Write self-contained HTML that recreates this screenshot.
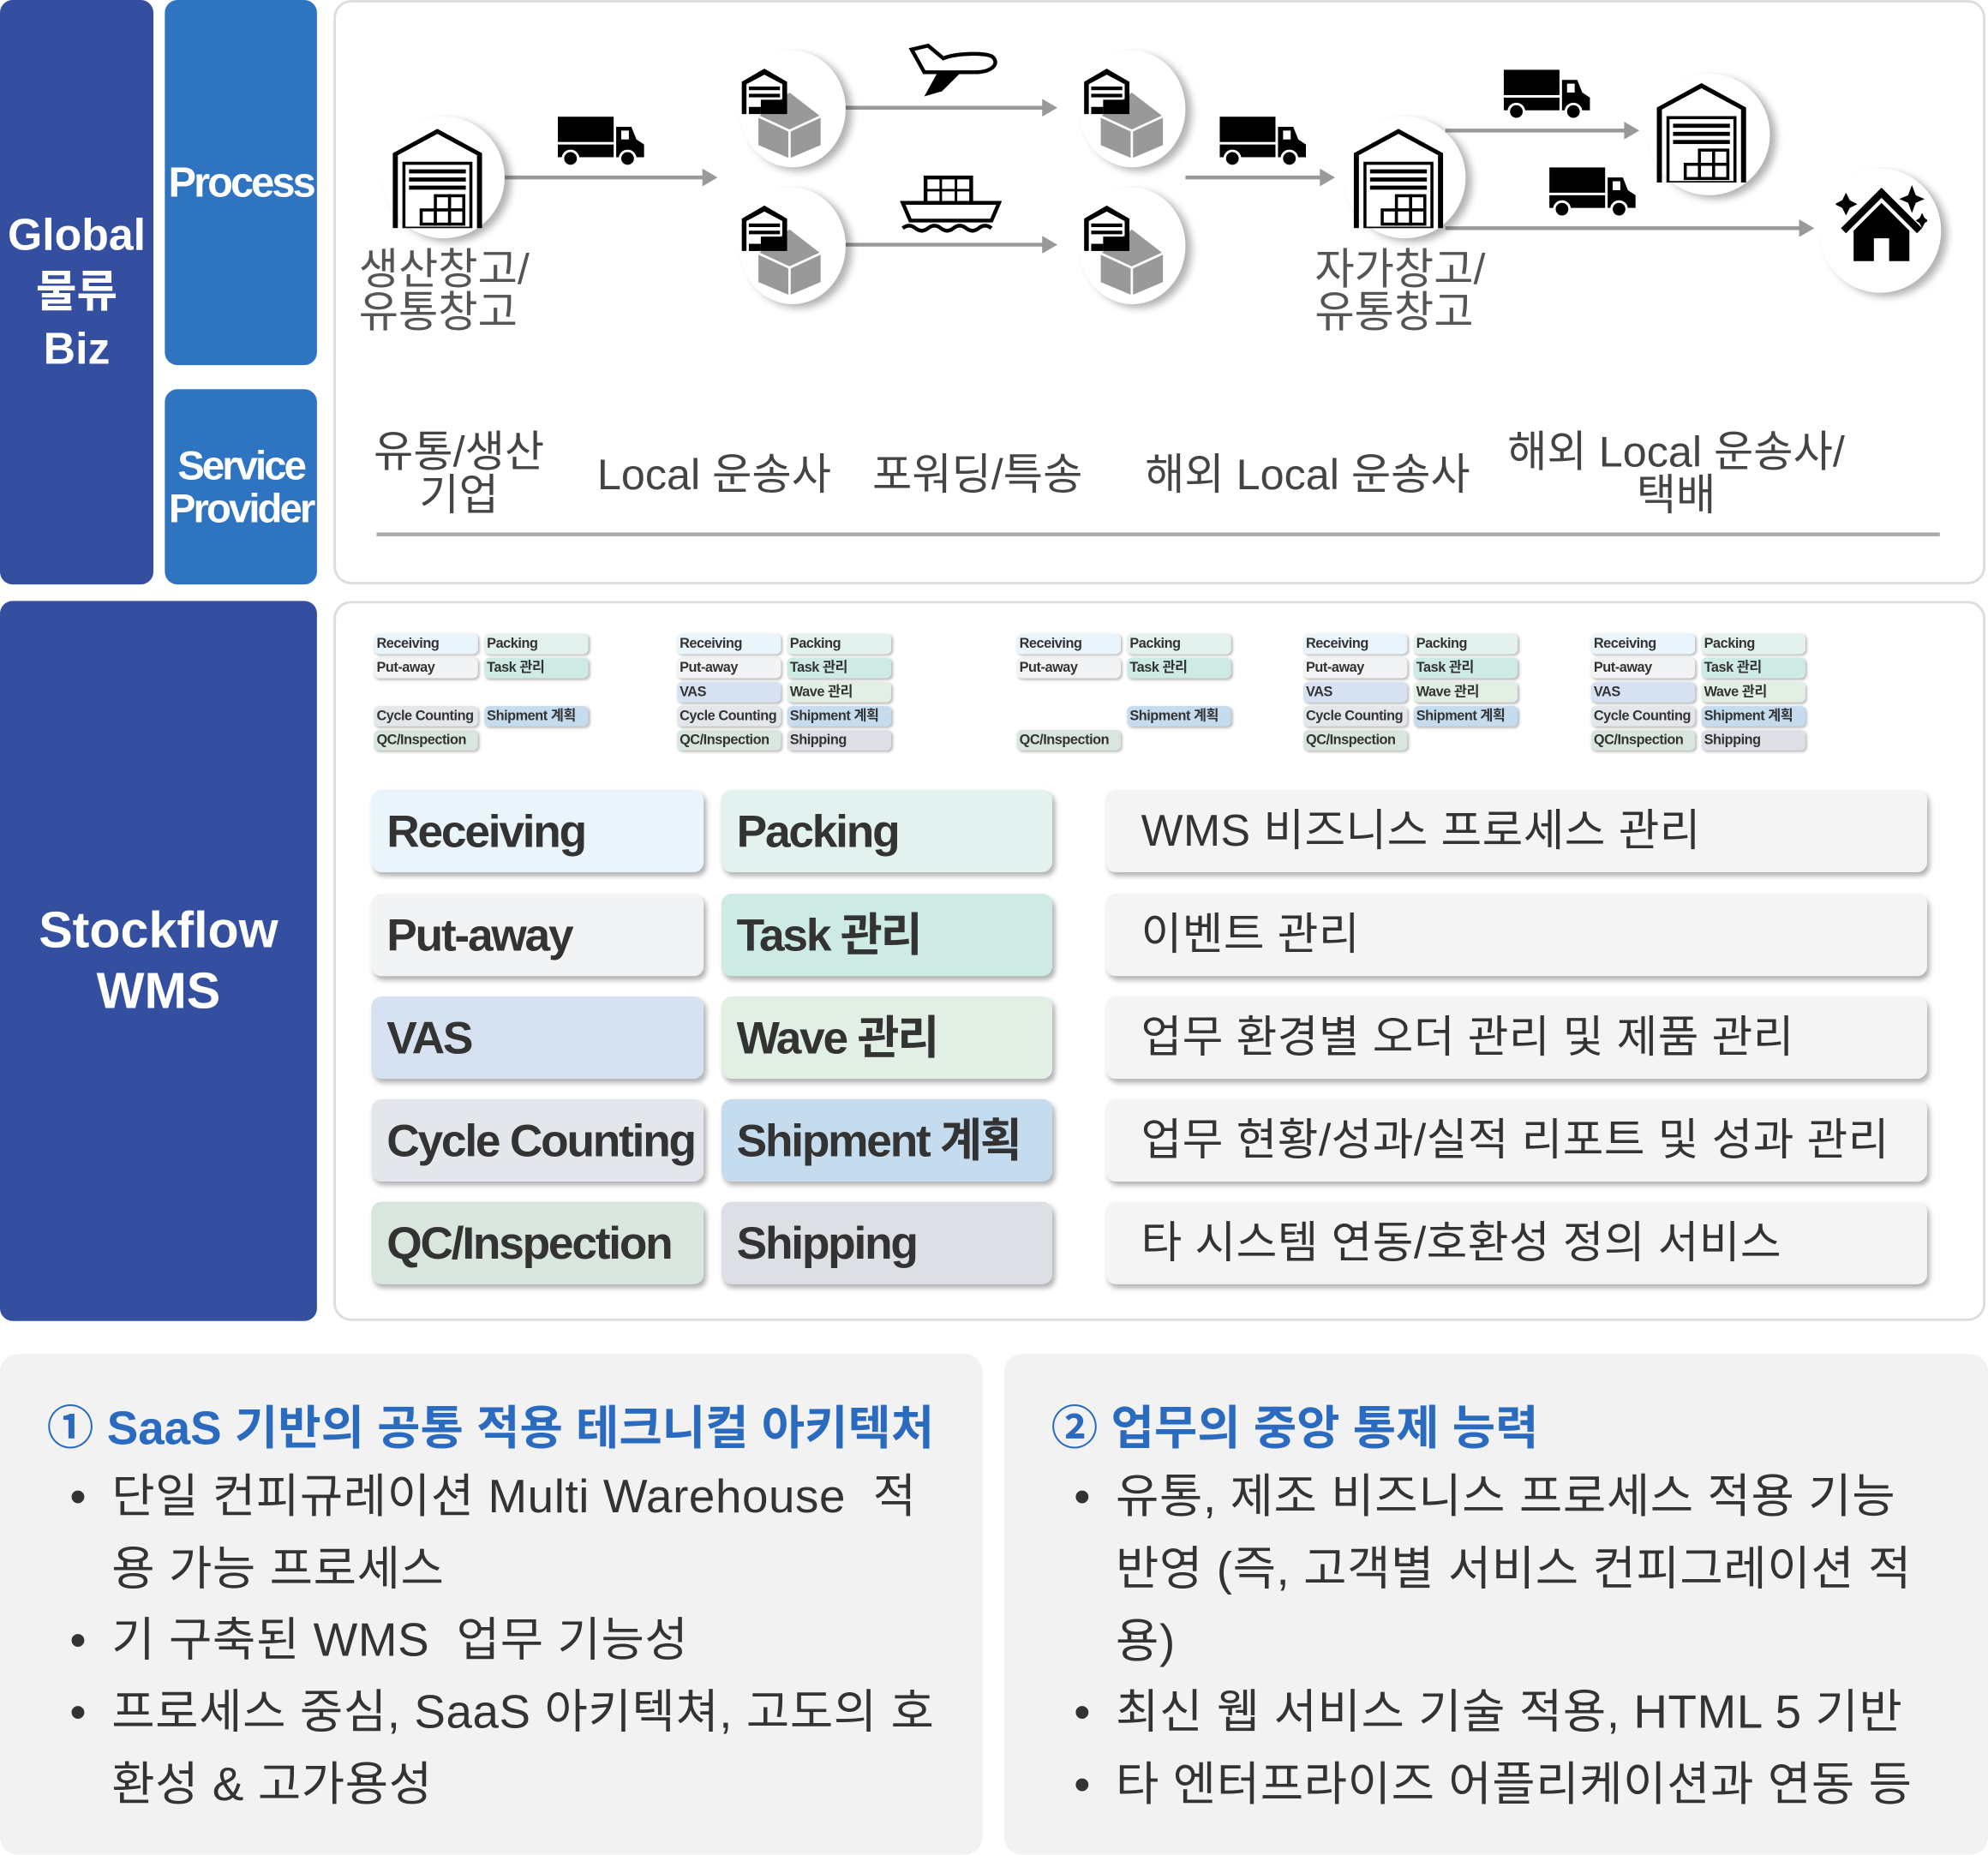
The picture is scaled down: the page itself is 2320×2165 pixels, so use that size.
<!DOCTYPE html>
<html><head><meta charset="utf-8">
<style>
*{margin:0;padding:0;box-sizing:border-box}
html,body{width:2320px;height:2165px;overflow:hidden;background:#fff}
#w{position:absolute;left:0;top:0;width:1568px;height:1463px;transform:scale(1.4796);transform-origin:0 0;font-family:"Liberation Sans","Noto Sans CJK KR",sans-serif}
.a{position:absolute}
.blk{position:absolute;border-radius:10px;color:#fff;font-weight:bold;display:flex;align-items:center;justify-content:center;text-align:center}
.panel{position:absolute;background:#fff;border:2px solid #ddd;border-radius:14px}
.circ{position:absolute;border-radius:50%;background:#fff;box-shadow:5px 3px 6px rgba(0,0,0,.3)}
.lbl{position:absolute;font-size:34px;color:#444;line-height:34px;text-align:center;white-space:nowrap}
.st{position:absolute;width:82px;height:16px;border-radius:4px;font-size:11px;font-weight:bold;color:#333;line-height:16px;padding-left:2px;box-shadow:1px 1px 2px rgba(0,0,0,.3);letter-spacing:-.3px;white-space:nowrap;overflow:hidden}
.bt{position:absolute;height:65px;border-radius:8px;font-size:36px;font-weight:bold;color:#333;line-height:65px;padding-left:12px;letter-spacing:-1.5px;box-shadow:2px 3px 4px rgba(0,0,0,.3);white-space:nowrap}
.rb{position:absolute;left:872px;width:648px;height:65px;border-radius:8px;background:#f4f4f4;font-size:35px;color:#333;line-height:65px;padding-left:28px;box-shadow:2px 3px 4px rgba(0,0,0,.3);white-space:nowrap;letter-spacing:.3px}
.bot{position:absolute;top:1068px;height:395px;background:#f2f2f2;border-radius:14px}
.tt{position:absolute;font-size:37px;font-weight:bold;color:#2a6bbf;white-space:nowrap;letter-spacing:0}
.bl{position:absolute;font-size:37px;color:#333;line-height:57px;word-break:break-all;letter-spacing:.4px}
.bl span{position:absolute;left:-33px}
</style></head><body>
<svg width="0" height="0" style="position:absolute">
<defs>
<symbol id="wh" viewBox="0 0 100 100"><path d="M6 100V26L50 2l44 24v74h-5V28L50 7 11 28v72z" fill="#000"/><rect x="17" y="36" width="66" height="64" fill="#fff" stroke="#000" stroke-width="3"/><rect x="22" y="42" width="56" height="4"/><rect x="22" y="50" width="56" height="4"/><rect x="22" y="58" width="56" height="4"/><g fill="#fff" stroke="#000" stroke-width="3"><rect x="48" y="68" width="14" height="14"/><rect x="62" y="68" width="14" height="14"/><rect x="34" y="82" width="14" height="14"/><rect x="48" y="82" width="14" height="14"/><rect x="62" y="82" width="14" height="14"/></g></symbol>
<symbol id="sw" viewBox="0 0 70 75"><path d="M40 20l26 20v24l-26 11-26-11V40z" fill="#999"/><path d="M40 52v23M40 52l26-12M40 52L14 40" stroke="#fff" stroke-width="2" fill="none"/><path d="M0 38V11L19 0l19 11v27h-4V13L19 5 4 13v25z"/><rect x="6" y="15" width="26" height="3"/><rect x="6" y="21" width="26" height="3"/><rect x="16" y="26" width="20" height="12"/><rect x="6" y="32" width="10" height="6"/></symbol>
<symbol id="tr" viewBox="0 0 70 40"><rect x="0" y="0" width="44" height="20"/><rect x="0" y="22" width="44" height="10"/><path d="M46 8h12l4 10 6 4v10H46z"/><rect x="50" y="11" width="6" height="7" fill="#fff"/><circle cx="10" cy="33" r="6" stroke="#fff" stroke-width="2"/><circle cx="55" cy="33" r="6" stroke="#fff" stroke-width="2"/></symbol>
</defs></svg>
<div id="w">
<div class="blk" style="left:0;top:0;width:121px;height:461px;background:#344ea0;font-size:35px;line-height:45px">Global<br>물류<br>Biz</div>
<div class="blk" style="left:130px;top:0;width:120px;height:288px;background:#2f74c0;font-size:33px;letter-spacing:-2px">Process</div>
<div class="blk" style="left:130px;top:307px;width:120px;height:154px;background:#2f74c0;font-size:32px;line-height:34px;letter-spacing:-2px">Service<br>Provider</div>
<div class="panel" style="left:263px;top:0;width:1303px;height:461px"></div>
<div class="blk" style="left:0;top:474px;width:250px;height:568px;background:#344ea0;font-size:40px;line-height:48px">Stockflow<br>WMS</div>
<div class="panel" style="left:263px;top:474px;width:1303px;height:568px"></div>

<svg class="a" style="left:0;top:0" width="1568" height="300">
<g stroke="#999" stroke-width="3"><line x1="398" y1="140" x2="556" y2="140"/><line x1="666" y1="85" x2="824" y2="85"/><line x1="666" y1="193" x2="824" y2="193"/><line x1="935" y1="140" x2="1043" y2="140"/><line x1="1140" y1="103" x2="1283" y2="103"/><line x1="1140" y1="180" x2="1421" y2="180"/></g>
<g fill="#999"><path d="M554 133l12 7-12 7z"/><path d="M822 78l12 7-12 7z"/><path d="M822 186l12 7-12 7z"/><path d="M1041 133l12 7-12 7z"/><path d="M1281 96l12 7-12 7z"/><path d="M1419 173l12 7-12 7z"/></g>
</svg>
<div class="circ" style="left:302px;top:92px;width:96px;height:96px"></div>
<div class="circ" style="left:583px;top:40px;width:84px;height:92px"></div>
<div class="circ" style="left:583px;top:148px;width:84px;height:92px"></div>
<div class="circ" style="left:851px;top:40px;width:84px;height:92px"></div>
<div class="circ" style="left:851px;top:148px;width:84px;height:92px"></div>
<div class="circ" style="left:1060px;top:92px;width:96px;height:96px"></div>
<div class="circ" style="left:1300px;top:58px;width:96px;height:96px"></div>
<div class="circ" style="left:1435px;top:133px;width:96px;height:98px"></div>
<svg class="a" style="left:305px;top:100px" width="80" height="80"><use href="#wh"/></svg>
<svg class="a" style="left:1063px;top:100px" width="80" height="80"><use href="#wh"/></svg>
<svg class="a" style="left:1302px;top:64px" width="80" height="80"><use href="#wh"/></svg>
<svg class="a" style="left:585px;top:54px" width="66" height="71"><use href="#sw"/></svg>
<svg class="a" style="left:585px;top:162px" width="66" height="71"><use href="#sw"/></svg>
<svg class="a" style="left:855px;top:54px" width="66" height="71"><use href="#sw"/></svg>
<svg class="a" style="left:855px;top:162px" width="66" height="71"><use href="#sw"/></svg>
<svg class="a" style="left:440px;top:92px" width="70" height="40"><use href="#tr"/></svg>
<svg class="a" style="left:962px;top:92px" width="70" height="40"><use href="#tr"/></svg>
<svg class="a" style="left:1186px;top:55px" width="70" height="40"><use href="#tr"/></svg>
<svg class="a" style="left:1222px;top:132px" width="70" height="40"><use href="#tr"/></svg>
<svg class="a" style="left:714px;top:34px" width="78" height="44" viewBox="0 0 78 44"><path d="M5 5l10 18h40c12 0 20-6 14-12C64 7 40 8 30 12L18 2z" stroke="#000" stroke-width="3" fill="#fff"/><path d="M25 24l-10 18 14-4 14-14z"/></svg>
<svg class="a" style="left:710px;top:138px" width="80" height="46" viewBox="0 0 80 46"><rect x="20" y="2" width="36" height="20" fill="#fff" stroke="#000" stroke-width="3"/><path d="M32 2v20M44 2v20M20 12h36" stroke="#000" stroke-width="2"/><path d="M2 22h76l-6 14H8z" fill="#fff" stroke="#000" stroke-width="3"/><path d="M2 42q5-4 10 0t10 0 10 0 10 0 10 0 10 0 10 0" stroke="#000" stroke-width="3" fill="none"/></svg>
<svg class="a" style="left:1448px;top:142px" width="72" height="66" viewBox="0 0 72 66"><path d="M36 6L4 38l4 4 28-28 28 28 4-4z"/><path d="M14 40l22-22 22 22v24H42V46H30v18H14z"/><path d="M8 10l3 6 6 3-6 3-3 6-3-6-6-3 6-3z M60 4l3 8 7 3-7 3-3 8-3-8-7-3 7-3z M68 26l2 4 3 2-3 2-2 4-2-4-3-2 3-2z"/></svg>

<div class="lbl" style="left:283px;top:196px;text-align:left;color:#555">생산창고/<br>유통창고</div>
<div class="lbl" style="left:1037px;top:196px;text-align:left;color:#555">자가창고/<br>유통창고</div>
<div class="lbl" style="left:292px;top:340px;width:140px">유통/생산<br>기업</div>
<div class="lbl" style="left:471px;top:358px">Local 운송사</div>
<div class="lbl" style="left:688px;top:358px">포워딩/특송</div>
<div class="lbl" style="left:903px;top:358px">해외 Local 운송사</div>
<div class="lbl" style="left:1172px;top:340px;width:300px">해외 Local 운송사/<br>택배</div>
<div class="a" style="left:297px;top:420px;width:1233px;height:3px;background:#aaa"></div>

<div class="st" style="left:295px;top:500px;background:#eaf4fb">Receiving</div><div class="st" style="left:382px;top:500px;background:#e3f2ef">Packing</div>
<div class="st" style="left:295px;top:519px;background:#f2f3f5">Put-away</div><div class="st" style="left:382px;top:519px;background:#cdeae4">Task 관리</div>
<div class="st" style="left:295px;top:557px;background:#e3e6ea">Cycle Counting</div><div class="st" style="left:382px;top:557px;background:#c5dbee">Shipment 계획</div>
<div class="st" style="left:295px;top:576px;background:#d9e6dd">QC/Inspection</div>

<div class="st" style="left:534px;top:500px;background:#eaf4fb">Receiving</div><div class="st" style="left:621px;top:500px;background:#e3f2ef">Packing</div>
<div class="st" style="left:534px;top:519px;background:#f2f3f5">Put-away</div><div class="st" style="left:621px;top:519px;background:#cdeae4">Task 관리</div>
<div class="st" style="left:534px;top:538px;background:#d6e2f1">VAS</div><div class="st" style="left:621px;top:538px;background:#e1efe5">Wave 관리</div>
<div class="st" style="left:534px;top:557px;background:#e3e6ea">Cycle Counting</div><div class="st" style="left:621px;top:557px;background:#c5dbee">Shipment 계획</div>
<div class="st" style="left:534px;top:576px;background:#d9e6dd">QC/Inspection</div><div class="st" style="left:621px;top:576px;background:#dcdfe3">Shipping</div>

<div class="st" style="left:802px;top:500px;background:#eaf4fb">Receiving</div><div class="st" style="left:889px;top:500px;background:#e3f2ef">Packing</div>
<div class="st" style="left:802px;top:519px;background:#f2f3f5">Put-away</div><div class="st" style="left:889px;top:519px;background:#cdeae4">Task 관리</div>
<div class="st" style="left:889px;top:557px;background:#c5dbee">Shipment 계획</div>
<div class="st" style="left:802px;top:576px;background:#d9e6dd">QC/Inspection</div>

<div class="st" style="left:1028px;top:500px;background:#eaf4fb">Receiving</div><div class="st" style="left:1115px;top:500px;background:#e3f2ef">Packing</div>
<div class="st" style="left:1028px;top:519px;background:#f2f3f5">Put-away</div><div class="st" style="left:1115px;top:519px;background:#cdeae4">Task 관리</div>
<div class="st" style="left:1028px;top:538px;background:#d6e2f1">VAS</div><div class="st" style="left:1115px;top:538px;background:#e1efe5">Wave 관리</div>
<div class="st" style="left:1028px;top:557px;background:#e3e6ea">Cycle Counting</div><div class="st" style="left:1115px;top:557px;background:#c5dbee">Shipment 계획</div>
<div class="st" style="left:1028px;top:576px;background:#d9e6dd">QC/Inspection</div>

<div class="st" style="left:1255px;top:500px;background:#eaf4fb">Receiving</div><div class="st" style="left:1342px;top:500px;background:#e3f2ef">Packing</div>
<div class="st" style="left:1255px;top:519px;background:#f2f3f5">Put-away</div><div class="st" style="left:1342px;top:519px;background:#cdeae4">Task 관리</div>
<div class="st" style="left:1255px;top:538px;background:#d6e2f1">VAS</div><div class="st" style="left:1342px;top:538px;background:#e1efe5">Wave 관리</div>
<div class="st" style="left:1255px;top:557px;background:#e3e6ea">Cycle Counting</div><div class="st" style="left:1342px;top:557px;background:#c5dbee">Shipment 계획</div>
<div class="st" style="left:1255px;top:576px;background:#d9e6dd">QC/Inspection</div><div class="st" style="left:1342px;top:576px;background:#dcdfe3">Shipping</div>

<div class="bt" style="left:293px;top:623px;width:262px;background:#eaf4fb">Receiving</div>
<div class="bt" style="left:569px;top:623px;width:261px;background:#e3f2ef">Packing</div>
<div class="bt" style="left:293px;top:705px;width:262px;background:#f2f3f5">Put-away</div>
<div class="bt" style="left:569px;top:705px;width:261px;background:#cdeae4">Task 관리</div>
<div class="bt" style="left:293px;top:786px;width:262px;background:#d6e2f1">VAS</div>
<div class="bt" style="left:569px;top:786px;width:261px;background:#e1efe5">Wave 관리</div>
<div class="bt" style="left:293px;top:867px;width:262px;background:#e3e6ea">Cycle Counting</div>
<div class="bt" style="left:569px;top:867px;width:261px;background:#c5dbee">Shipment 계획</div>
<div class="bt" style="left:293px;top:948px;width:262px;background:#d9e6dd">QC/Inspection</div>
<div class="bt" style="left:569px;top:948px;width:261px;background:#dcdfe3">Shipping</div>
<div class="rb" style="top:623px">WMS 비즈니스 프로세스 관리</div>
<div class="rb" style="top:705px">이벤트 관리</div>
<div class="rb" style="top:786px">업무 환경별 오더 관리 및 제품 관리</div>
<div class="rb" style="top:867px">업무 현황/성과/실적 리포트 및 성과 관리</div>
<div class="rb" style="top:948px">타 시스템 연동/호환성 정의 서비스</div>

<div class="bot" style="left:0;width:775px"></div>
<div class="bot" style="left:792px;width:776px"></div>
<div class="tt" style="left:37px;top:1096px">① SaaS 기반의 공통 적용 테크니컬 아키텍처</div>
<div class="bl" style="left:88px;top:1152px;width:660px"><span>•</span>단일 컨피규레이션 Multi Warehouse&nbsp; 적용 가능 프로세스</div>
<div class="bl" style="left:88px;top:1265px;width:660px"><span>•</span>기 구축된 WMS &nbsp;업무 기능성</div>
<div class="bl" style="left:88px;top:1322px;width:660px"><span>•</span>프로세스 중심, SaaS 아키텍쳐, 고도의 호환성 &amp; 고가용성</div>
<div class="tt" style="left:829px;top:1096px">② 업무의 중앙 통제 능력</div>
<div class="bl" style="left:880px;top:1152px;width:640px"><span>•</span>유통, 제조 비즈니스 프로세스 적용 기능 반영 (즉, 고객별 서비스 컨피그레이션 적용)</div>
<div class="bl" style="left:880px;top:1322px;width:660px"><span>•</span>최신 웹 서비스 기술 적용, HTML 5 기반</div>
<div class="bl" style="left:880px;top:1379px;width:680px;white-space:nowrap"><span>•</span>타 엔터프라이즈 어플리케이션과 연동 등</div>
</div>
</body></html>
